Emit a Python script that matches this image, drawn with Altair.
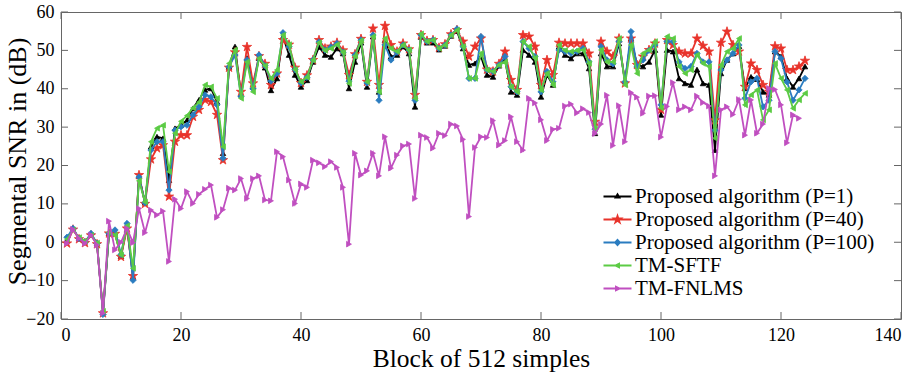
import altair as alt
import pandas as pd

names = ["Proposed algorithm (P=1)", "Proposed algorithm (P=40)",
         "Proposed algorithm (P=100)", "TM-SFTF", "TM-FNLMS"]
colors = ["#000000", "#e8332b", "#2a7cc0", "#5ccb45", "#c04fc0"]

black = [0.5, 3.5, 1, 0.2, 2, -0.3, -18.2, 2.4, 2.5, -3.6,
         4.2, -9, 17.3, 10.3, 24.9, 27.5, 27.1, 16.2, 29.7, 30.5,
         31.8, 34.9, 37.1, 39.7, 40.1, 36.6, 23.2, 45.7, 51, 38.5,
         48, 40.5, 48, 45.5, 39.6, 42.7, 53.6, 48.8, 43.6, 40.5,
         42.2, 47, 50.9, 48.8, 48.3, 50.5, 49.2, 40.1, 47, 52,
         40.5, 53.6, 39.2, 52.7, 48.4, 48.8, 51, 49.2, 35.3, 53.5,
         52, 52, 50.2, 51.2, 53.8, 55, 50.5, 46.2, 46.6, 48.4,
         43.6, 43.1, 46, 47.5, 39.2, 38.4, 50.1, 48.8, 47, 37.9,
         43.6, 41, 51, 48.8, 47.9, 49.2, 49.2, 45.3, 28.4, 49.2,
         45.8, 45.8, 51.8, 42, 53.1, 46.2, 45.8, 47, 50.1, 33.2,
         50.1, 49.7, 42.7, 41.4, 41, 45, 41.4, 41, 24, 44,
         47.5, 49.2, 51.1, 40.1, 43.1, 42.5, 39.2, 38.4, 49.7, 48.4,
         42.7, 40.5, 42.7, 45.8]

red = [-0.3, 3.3, 0.8, -0.2, 1.8, -0.5, -18.5, 2.3, 2.2, -3.8,
       3.6, -8.8, 17.5, 10, 21.6, 24.5, 25.3, 11.9, 26.2, 27.9,
       27.9, 32.7, 34.5, 37.1, 36.6, 33.2, 21.4, 45.5, 49.5, 39.2,
       50.9, 41.4, 48.5, 46.5, 41, 44, 52.7, 51.5, 45.5, 41.5,
       43.5, 47.5, 52.7, 50.5, 51, 52, 50, 43.6, 49, 53,
       41.8, 55.7, 41, 56.4, 51.4, 49.7, 51.8, 50.3, 38.4, 54,
       52.5, 52.7, 50.7, 51.6, 54.2, 55.3, 52.3, 48.4, 51, 53.1,
       45, 44.5, 46.5, 49.7, 42.3, 39.7, 54, 53.6, 51, 41,
       47.5, 43.6, 52, 51.8, 51.8, 51.8, 51.8, 49.2, 31.4, 52.3,
       49.7, 48.4, 53.1, 41.4, 53.1, 46.2, 48.4, 50.1, 51.8, 34.5,
       52.7, 51.4, 49.7, 49.2, 49.2, 53.1, 51.2, 49.7, 31.8, 52,
       54.9, 51.4, 49.7, 40.5, 46.6, 44.9, 41, 39.2, 51.1, 50.5,
       44.9, 44.9, 45.8, 47.3]

blue = [1.3, 3.6, 1, 0.1, 2.3, -0.3, -18.8, 2.3, 3.2, -3.2,
        4.9, -9.9, 17, 10.3, 24, 26.2, 26.2, 13.6, 29.2, 30.1,
        30.5, 33.2, 35.3, 38.4, 37.9, 35.8, 21.9, 45.7, 48.8, 38,
        47.5, 40, 48.8, 46, 42, 44, 54.6, 51, 45, 41.5,
        43, 47.5, 52.2, 50.1, 50.9, 51.8, 49.5, 42, 48.8, 52.7,
        41.5, 54, 37, 51.4, 47.5, 49.5, 51.4, 50.1, 37, 54,
        52.3, 52.7, 50.5, 51.4, 54, 55.6, 51, 42.7, 42.7, 53.6,
        44.9, 44.5, 46.2, 48.4, 40.5, 39.2, 52.3, 50.5, 48.4, 39.2,
        44.5, 41.8, 50.1, 49.7, 49.2, 49.7, 50.5, 47, 29.5, 51,
        47.5, 46.5, 52.3, 41.8, 54.9, 45.8, 47.5, 50, 51.4, 35.8,
        52.3, 52.3, 47, 45.3, 45.8, 49.2, 47, 47, 29.2, 44.9,
        47.5, 49.2, 51.4, 37.5, 41.8, 42.7, 35.3, 37, 49.7, 47.9,
        41.8, 37, 39.7, 42.7]

green = [0.8, 3.2, 1.2, 0.3, 1.8, -0.2, -18, 2.6, 1.9, -3.3,
         4.3, -6.8, 16, 10.5, 26.2, 29.7, 30.5, 18.4, 28.4, 31.5,
         33, 35, 36.5, 41, 40.5, 37.5, 24.9, 46.6, 50.1, 37.5,
         47, 39.2, 47.9, 46, 42.7, 44.9, 54, 51.5, 45, 41.8,
         43, 47.5, 52, 50, 50.5, 51.5, 49.5, 41.4, 48.5, 52.5,
         41.8, 53.6, 39.2, 53.1, 50.5, 49.7, 51.4, 50.1, 37.5, 54.3,
         52.3, 52.7, 50.5, 51.4, 54, 55.3, 51, 42.7, 42.7, 49.2,
         44.9, 44.5, 46.2, 47, 40.5, 39.2, 52.3, 51, 48, 39.7,
         44, 41, 51.4, 50, 49.7, 50, 50.1, 46.6, 29.5, 50.1,
         47, 47, 53.1, 41, 51.4, 44, 49.2, 50.1, 52.3, 35,
         53.6, 53.1, 45.8, 44, 44.9, 48.8, 46.6, 45.8, 27.1, 46.2,
         49.7, 50.5, 53.1, 35.8, 38.4, 39.7, 31.9, 34.5, 46.6, 42.7,
         39.7, 34.9, 37.1, 38.8]

purple = [-0.3, 3.4, 1, -0.3, 1.9, -0.7, -18.5, 5.5, -2, 0,
          3.6, -0.1, 8.8, 2.5, 8.4, 7.1, 8.1, -5, 11.2, 8.8,
          13.2, 10.1, 12.5, 13.8, 14.9, 6.5, 8.5, 14.1, 13.6, 16.6,
          11.4, 16.6, 17.3, 11, 10.8, 23.6, 22.3, 16.2, 10.1, 15.2,
          14.3, 21.4, 20.7, 19.7, 21, 19.5, 14.3, -0.5, 23.2, 17.5,
          18.6, 23.2, 17.3, 27.5, 19.3, 22.7, 25.1, 25.6, 11.4, 27.9,
          27.3, 24.5, 28.4, 27.8, 30.8, 30.3, 26.8, 6.7, 24.7, 27.5,
          27.3, 31.7, 25.3, 26.5, 32.7, 26.2, 24, 37.5, 36.3, 31.9,
          26.5, 29.4, 29.7, 35.5, 36, 33.7, 34.8, 33.8, 28.3, 30.8,
          38.3, 25.2, 35.6, 26.2, 39, 37.8, 33.6, 38.1, 38.2, 27.4,
          35.4, 41.6, 34.5, 35.3, 34.5, 38.1, 36.4, 35.5, 17.3, 34.5,
          35.3, 33.3, 37.2, 27.9, 37.1, 28.4, 30.8, 40.1, 39.8, 35.8,
          25.9, 33.2, 32.3]

series = [black, red, blue, green, purple]
x_ticks = [0, 20, 40, 60, 80, 100, 120, 140]
y_ticks = [-20, -10, 0, 10, 20, 30, 40, 50, 60]

# marker styles
STAR = ("M0,-1L0.2245,-0.309L0.951,-0.309L0.363,0.118L0.588,0.809L0,0.382"
        "L-0.588,0.809L-0.363,0.118L-0.951,-0.309L-0.2245,-0.309Z")
marker_shapes = ["triangle-up", STAR, "diamond", "triangle-left", "triangle-right"]
marker_sizes = [30, 95, 40, 32, 32]

# legend symbols: a short line with the series marker in its middle
LINE = "M-7,0L7,0"
legend_paths = [
    LINE + "M0,-1.1L1,0.6L-1,0.6Z",
    LINE + "M0,-1.8L0.4,-0.56L1.71,-0.56L0.65,0.21L1.06,1.46L0,0.69L-1.06,1.46L-0.65,0.21L-1.71,-0.56L-0.4,-0.56Z",
    LINE + "M0,-1.3L1.2,0L0,1.3L-1.2,0Z",
    LINE + "M-1.1,0L0.8,-0.9L0.8,0.9Z",
    LINE + "M1.1,0L-0.8,-0.9L-0.8,0.9Z",
]

rows = []
for name, vals in zip(names, series):
    for i, v in enumerate(vals):
        rows.append({"block": i + 1, "snr": v, "series": name})
df = pd.DataFrame(rows)

W, H = 840, 307
FONT = "Liberation Serif"
TICK = "#666666"

xscale = alt.Scale(domain=[0, 140], nice=False, zero=False)
yscale = alt.Scale(domain=[-20, 60], nice=False, zero=False)
cscale = alt.Scale(domain=names, range=colors)
sscale = alt.Scale(domain=names, range=legend_paths)

x_axis = alt.Axis(values=x_ticks, ticks=False, domain=False, grid=False,
                  labelFont=FONT, labelFontSize=18, labelColor="black",
                  labelPadding=7, title="Block of 512 simples",
                  titleFont=FONT, titleFontSize=25.5, titleFontWeight="normal",
                  titleColor="black", titleBaseline="alphabetic", titleY=47)
y_axis = alt.Axis(values=y_ticks, ticks=False, domain=False, grid=False,
                  labelFont=FONT, labelFontSize=18, labelColor="black",
                  labelPadding=7, title="Segmental SNR in (dB)",
                  titleFont=FONT, titleFontSize=26, titleFontWeight="normal",
                  titleColor="black", titleBaseline="alphabetic",
                  titleX=-36, titleY=149)

X = alt.X("block:Q", scale=xscale, axis=x_axis)
Y = alt.Y("snr:Q", scale=yscale, axis=y_axis)

legend = alt.Legend(
    title=None, orient="none", legendX=546, legendY=174, padding=0,
    rowPadding=1, labelOffset=7, symbolSize=16, symbolStrokeWidth=1.8,
    labelFont=FONT, labelFontSize=21, labelColor="black", labelLimit=0,
    symbolOpacity=1,
)

layers = []
# inward ticks on all four sides
xt = pd.DataFrame({"block": x_ticks})
yt = pd.DataFrame({"snr": y_ticks})
layers.append(alt.Chart(xt).mark_rule(color=TICK, strokeWidth=1).encode(
    x=X, y=alt.value(H), y2=alt.value(H - 7)))
layers.append(alt.Chart(xt).mark_rule(color=TICK, strokeWidth=1).encode(
    x=X, y=alt.value(0), y2=alt.value(7)))
layers.append(alt.Chart(yt).mark_rule(color=TICK, strokeWidth=1).encode(
    y=Y, x=alt.value(0), x2=alt.value(7)))
layers.append(alt.Chart(yt).mark_rule(color=TICK, strokeWidth=1).encode(
    y=Y, x=alt.value(W), x2=alt.value(W - 7)))

for k, name in enumerate(names):
    base = alt.Chart(df).transform_filter(alt.datum.series == name)
    line = base.mark_line(strokeWidth=1.8, color=colors[k]).encode(
        x=X, y=Y, order="block:Q")
    pts = base.mark_point(shape=marker_shapes[k], size=marker_sizes[k],
                          filled=True, opacity=1, strokeWidth=0.8,
                          color=colors[k], stroke=colors[k]).encode(x=X, y=Y)
    layers += [line, pts]

# legend-only layer: draws no marks, its scales give the legend entries
leg = alt.Chart(df).transform_filter("false").mark_point(
    filled=True, strokeWidth=1.8).encode(
    x=X, y=Y,
    color=alt.Color("series:N", scale=cscale, legend=legend),
    stroke=alt.Stroke("series:N", scale=cscale, legend=legend),
    shape=alt.Shape("series:N", scale=sscale, legend=legend),
)
layers.append(leg)

chart = alt.layer(*layers).properties(
    width=W, height=H,
    autosize=alt.AutoSizeParams(type="none"),
    padding={"left": 61, "top": 12, "right": 19, "bottom": 53},
    background="white",
).configure_view(stroke=TICK, strokeWidth=1)

chart.save("out.html", embed_options={"renderer": "svg", "actions": False})
